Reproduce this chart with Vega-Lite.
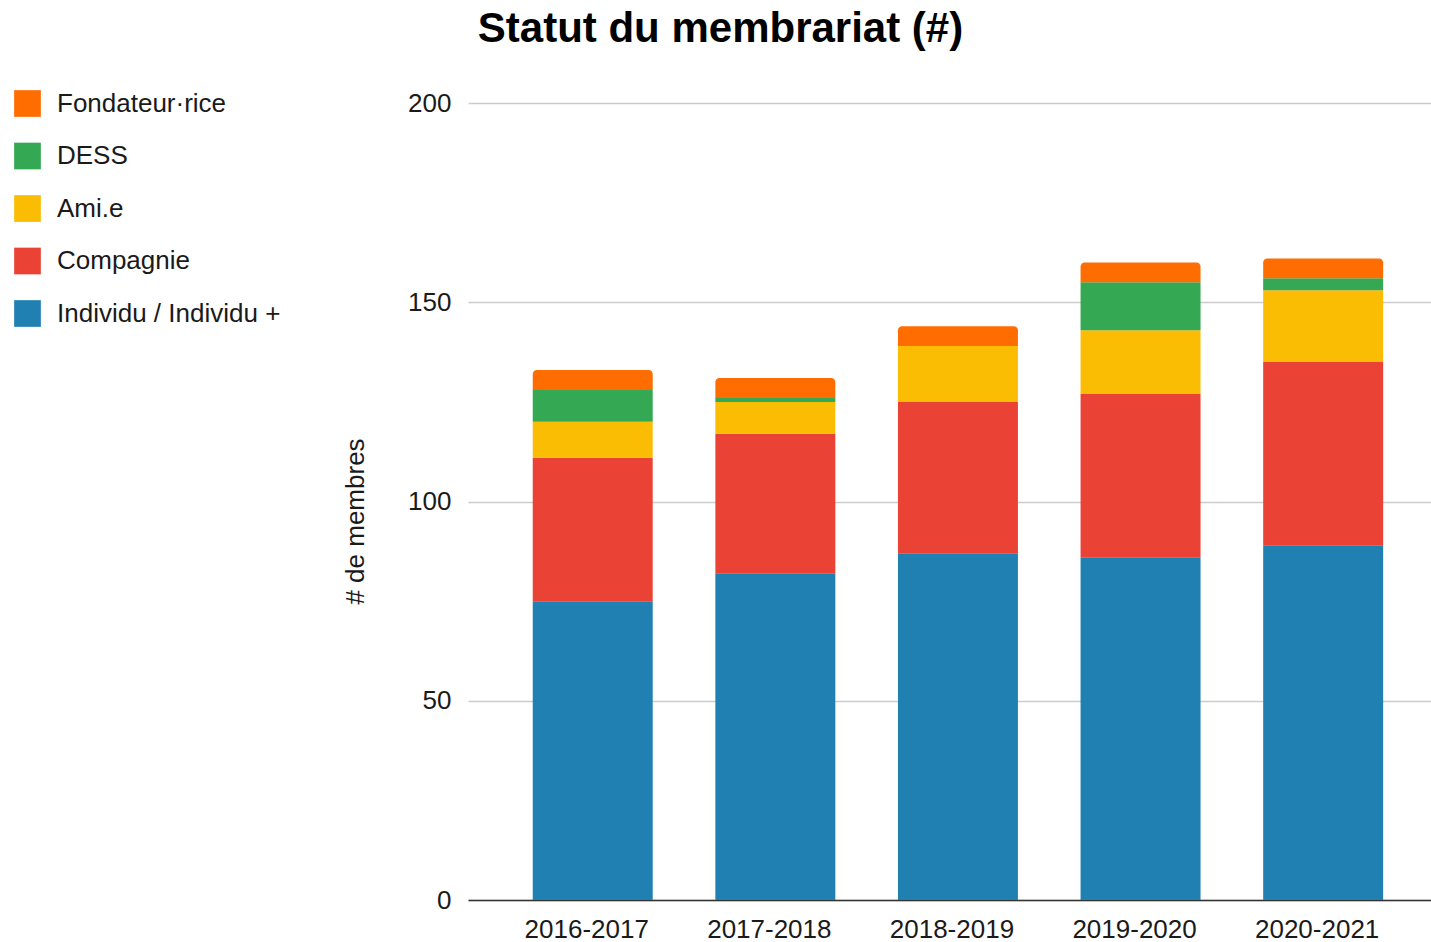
{
  "$schema": "https://vega.github.io/schema/vega-lite/v6.json",
  "width": 963,
  "height": 797,
  "autosize": {"type": "none"},
  "padding": {"left": 468, "top": 103, "right": 0, "bottom": 42},
  "background": "white",
  "config": {
    "view": {"stroke": null},
    "font": "Liberation Sans"
  },
  "title": {
    "text": "Statut du membrariat (#)",
    "font": "Liberation Sans",
    "fontSize": 42,
    "fontWeight": "bold",
    "color": "#000000",
    "anchor": "middle",
    "dx": -229,
    "offset": 39
  },
  "data": {
    "values": [
      {"annee": "2016-2017", "statut": "Individu / Individu +", "rang": 1, "membres": 75},
      {"annee": "2016-2017", "statut": "Compagnie", "rang": 2, "membres": 36},
      {"annee": "2016-2017", "statut": "Ami.e", "rang": 3, "membres": 9},
      {"annee": "2016-2017", "statut": "DESS", "rang": 4, "membres": 8},
      {"annee": "2016-2017", "statut": "Fondateur·rice", "rang": 5, "membres": 5},
      {"annee": "2017-2018", "statut": "Individu / Individu +", "rang": 1, "membres": 82},
      {"annee": "2017-2018", "statut": "Compagnie", "rang": 2, "membres": 35},
      {"annee": "2017-2018", "statut": "Ami.e", "rang": 3, "membres": 8},
      {"annee": "2017-2018", "statut": "DESS", "rang": 4, "membres": 1},
      {"annee": "2017-2018", "statut": "Fondateur·rice", "rang": 5, "membres": 5},
      {"annee": "2018-2019", "statut": "Individu / Individu +", "rang": 1, "membres": 87},
      {"annee": "2018-2019", "statut": "Compagnie", "rang": 2, "membres": 38},
      {"annee": "2018-2019", "statut": "Ami.e", "rang": 3, "membres": 14},
      {"annee": "2018-2019", "statut": "Fondateur·rice", "rang": 5, "membres": 5},
      {"annee": "2019-2020", "statut": "Individu / Individu +", "rang": 1, "membres": 86},
      {"annee": "2019-2020", "statut": "Compagnie", "rang": 2, "membres": 41},
      {"annee": "2019-2020", "statut": "Ami.e", "rang": 3, "membres": 16},
      {"annee": "2019-2020", "statut": "DESS", "rang": 4, "membres": 12},
      {"annee": "2019-2020", "statut": "Fondateur·rice", "rang": 5, "membres": 5},
      {"annee": "2020-2021", "statut": "Individu / Individu +", "rang": 1, "membres": 89},
      {"annee": "2020-2021", "statut": "Compagnie", "rang": 2, "membres": 46},
      {"annee": "2020-2021", "statut": "Ami.e", "rang": 3, "membres": 18},
      {"annee": "2020-2021", "statut": "DESS", "rang": 4, "membres": 3},
      {"annee": "2020-2021", "statut": "Fondateur·rice", "rang": 5, "membres": 5}
    ]
  },
  "transform": [
    {"stack": "membres", "groupby": ["annee"], "sort": [{"field": "rang", "order": "ascending"}], "as": ["y0", "y1"]}
  ],
  "encoding": {
    "x": {
      "field": "annee",
      "type": "nominal",
      "title": null,
      "scale": {"paddingInner": 0.343, "paddingOuter": 0.3083, "align": 0.575},
      "axis": {
        "labelAngle": 0,
        "labelFont": "Liberation Sans",
        "labelFontSize": 26,
        "labelColor": "#1a1a1a",
        "labelPadding": 16,
        "labelOffset": -6,
        "ticks": false,
        "tickSize": 0,
        "domain": true,
        "domainColor": "#333333",
        "domainWidth": 1.5,
        "grid": false
      }
    },
    "y": {
      "field": "y1",
      "type": "quantitative",
      "scale": {"domain": [0, 200], "nice": false},
      "axis": {
        "title": "# de membres",
        "titleFont": "Liberation Sans",
        "titleFontSize": 26,
        "titleFontWeight": "normal",
        "titleColor": "#1a1a1a",
        "titleAngle": 270,
        "titleAlign": "center",
        "titleBaseline": "middle",
        "titleX": -113,
        "titleY": 418,
        "values": [0, 50, 100, 150, 200],
        "labelFont": "Liberation Sans",
        "labelFontSize": 26,
        "labelColor": "#1a1a1a",
        "labelPadding": 17,
        "ticks": false,
        "tickSize": 0,
        "domain": false,
        "grid": true,
        "gridColor": "#cccccc",
        "gridWidth": 1.3
      }
    },
    "y2": {"field": "y0"},
    "color": {
      "field": "statut",
      "type": "nominal",
      "scale": {
        "domain": ["Fondateur·rice", "DESS", "Ami.e", "Compagnie", "Individu / Individu +"],
        "range": ["#FF6D01", "#34A853", "#FBBC04", "#EA4335", "#2180B2"]
      },
      "legend": {
        "title": null,
        "orient": "none",
        "legendX": -454,
        "legendY": -13,
        "padding": 0,
        "symbolType": "square",
        "symbolSize": 713,
        "symbolStrokeWidth": 0,
        "symbolOpacity": 1,
        "labelFont": "Liberation Sans",
        "labelFontSize": 26,
        "labelColor": "#1a1a1a",
        "labelOffset": 16,
        "rowPadding": 25.5,
        "labelLimit": 400
      }
    }
  },
  "layer": [
    {
      "transform": [{"filter": "datum.statut !== 'Fondateur·rice'"}],
      "mark": {"type": "bar"}
    },
    {
      "transform": [{"filter": "datum.statut === 'Fondateur·rice'"}],
      "mark": {"type": "bar", "cornerRadiusTopLeft": 4, "cornerRadiusTopRight": 4}
    }
  ]
}
